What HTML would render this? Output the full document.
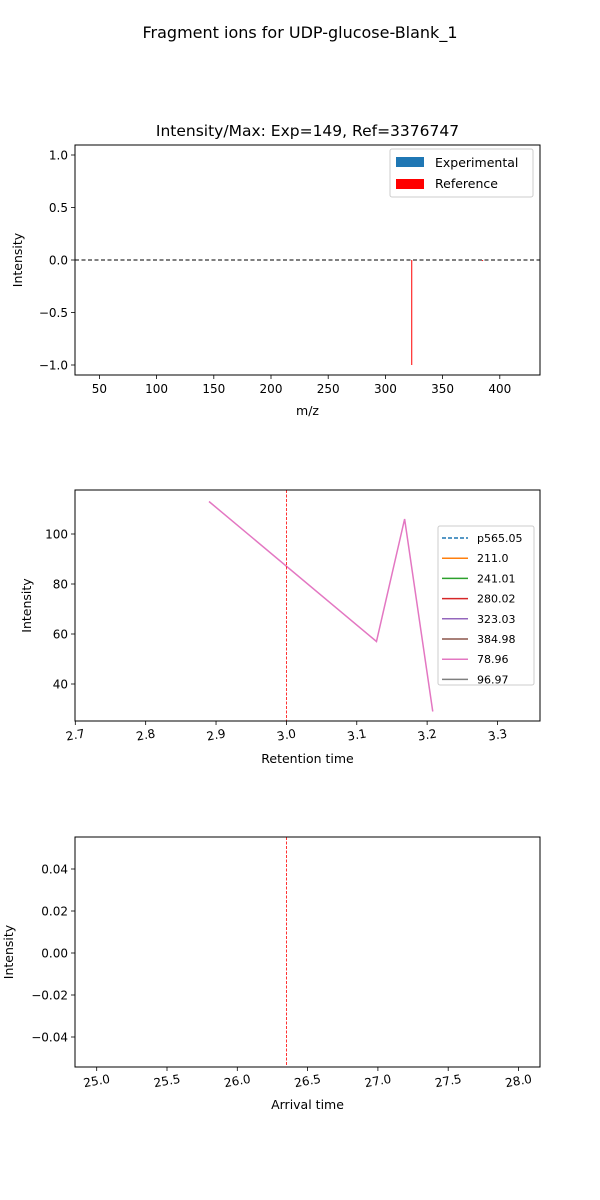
<!DOCTYPE html>
<html><head><meta charset="utf-8"><style>
html,body{margin:0;padding:0;background:#fff;}
svg{display:block;font-family:"DejaVu Sans","Liberation Sans",sans-serif;}
</style></head><body>
<svg id="fig" width="600" height="1200" viewBox="0 0 600 1200">
<text x="300" y="38" text-anchor="middle" font-size="16">Fragment ions for UDP-glucose-Blank_1</text>
</svg>
<script>
// Chart 1 data
const specMz = [323.03, 384.98];
const specRef = [-1.0, -0.01];
const specTicksX = [50,100,150,200,250,300,350,400];
const specTicksY = [1.0,0.5,0.0,-0.5,-1.0];
// Chart 2 data
const rtX = [2.89, 3.128, 3.168, 3.208];
const rtY = [113, 57, 106, 29];
const rtTicksX = [2.7,2.8,2.9,3.0,3.1,3.2,3.3];
const rtTicksY = [40,60,80,100];
const rtMarker = [3.0];
const legendLabels = ["p565.05","211.0","241.01","280.02","323.03","384.98","78.96","96.97"];
const legendColors = ["#1f77b4","#ff7f0e","#2ca02c","#d62728","#9467bd","#8c564b","#e377c2","#7f7f7f"];
// Chart 3 data
const atTicksX = [25.0,25.5,26.0,26.5,27.0,27.5,28.0];
const atTicksY = [0.04,0.02,0.00,-0.02,-0.04];
const atMarker = [26.35];

const NS="http://www.w3.org/2000/svg";
const fig=document.getElementById('fig');
function el(tag,attrs,parent,text){const e=document.createElementNS(NS,tag);for(const k in attrs)e.setAttribute(k,attrs[k]);if(text!==undefined)e.textContent=text;(parent||fig).appendChild(e);return e;}
function lin(d0,d1,r0,r1){return v=>r0+(v-d0)*(r1-r0)/(d1-d0);}
function fmt(v,dec){let s=v.toFixed(dec);return s.replace('-','\u2212');}

function axes(name,L,T,R,B,sx,sy,tx,ty,decX,decY,xlabel,ylabel,rot,ylabX){
  const g=el('g',{},fig);
  
  
  tx.forEach(v=>{const x=sx(v);
    const t=el('line',{x1:x,x2:x,y1:B,y2:B+4,stroke:'#000','stroke-width':0.8},g);
    
    
    const lb=el('text',{x:x,y:B+18,'text-anchor':'middle','font-size':12,transform:rot?`rotate(-10 ${x} ${B+14})`:''},g,fmt(v,decX));
    
    
  });
  ty.forEach(v=>{const y=sy(v);
    const t=el('line',{x1:L-4,x2:L,y1:y,y2:y,stroke:'#000','stroke-width':0.8},g);
    
    
    const lb=el('text',{x:L-7,y:y+4.5,'text-anchor':'end','font-size':12},g,fmt(v,decY));
    
    
  });
  const xl=el('text',{x:(L+R)/2,y:B+(rot?42:40),'text-anchor':'middle','font-size':12.5},g,xlabel);
  
  
  const yc=(T+B)/2;
  const yl=el('text',{x:ylabX,y:yc,'text-anchor':'middle','font-size':12.5,transform:`rotate(-90 ${ylabX} ${yc})`},g,ylabel);
  
  
  return g;
}
function frame(L,T,R,B){const f=el('rect',{x:L,y:T,width:R-L,height:B-T,fill:'none',stroke:'#000','stroke-width':1});
  
  }

// ---- Chart 1
{
 const L=75,T=145,R=540,B=375;
 const sx=lin(50,400,99.4,499.8), sy=lin(1,-1,155,365);
 const t=el('text',{x:(L+R)/2,y:T-9,'text-anchor':'middle','font-size':15.5},fig,'Intensity/Max: Exp=149, Ref=3376747');
 
 
 axes('spectrum-axes',L,T,R,B,sx,sy,specTicksX,specTicksY,0,1,'m/z','Intensity',false,22);
 const z=el('line',{x1:L,x2:R,y1:sy(0),y2:sy(0),stroke:'#000','stroke-width':1,'stroke-dasharray':'4,2.5'});
 
 
 specMz.forEach((m,i)=>{
   const b=el('line',{x1:sx(m),x2:sx(m),y1:sy(0),y2:sy(specRef[i]),stroke:'red','stroke-width':1});
   
   
 });
 frame(L,T,R,B);
 const lg=el('g',{});
 
 
 el('rect',{x:390,y:149,width:143,height:48,rx:2,fill:'#fff',stroke:'#ccc'},lg);
 el('rect',{x:396,y:157,width:28,height:10,fill:'#1f77b4'},lg);
 el('text',{x:435,y:167,'font-size':12.5},lg,'Experimental');
 el('rect',{x:396,y:179,width:28,height:10,fill:'red'},lg);
 el('text',{x:435,y:188,'font-size':12.5},lg,'Reference');
}
// ---- Chart 2
{
 const L=75,T=490,R=540,B=721;
 const sx=lin(2.7,3.3,75.3,497.5), sy=lin(100,40,534,684);
 axes('retention-axes',L,T,R,B,sx,sy,rtTicksX,rtTicksY,1,0,'Retention time','Intensity',true,31);
 const p=el('polyline',{points:rtX.map((x,i)=>sx(x)+','+sy(rtY[i])).join(' '),fill:'none',stroke:'#e377c2','stroke-width':1.5});
 
 
 rtMarker.forEach(v=>{const m=el('line',{x1:sx(v),x2:sx(v),y1:T,y2:B,stroke:'red','stroke-width':0.8,'stroke-dasharray':'3,1.5'});
   
   });
 frame(L,T,R,B);
 const lg=el('g',{});
 
 
 el('rect',{x:438,y:526,width:96,height:159,rx:2,fill:'#fff',stroke:'#ccc'},lg);
 legendLabels.forEach((lab,i)=>{const y=538+i*20.2;
   const e=el('g',{},lg);
   
   
   el('line',{x1:442,x2:468,y1:y,y2:y,stroke:legendColors[i],'stroke-width':1.5,'stroke-dasharray':i==0?'4,2':''},e);
   el('text',{x:477,y:y+4,'font-size':11},e,lab);
 });
}
// ---- Chart 3
{
 const L=75,T=837,R=540,B=1067;
 const sx=lin(25,28,96.7,518.5), sy=lin(0.04,-0.04,869,1037);
 axes('arrival-axes',L,T,R,B,sx,sy,atTicksX,atTicksY,1,2,'Arrival time','Intensity',true,13);
 atMarker.forEach(v=>{const m=el('line',{x1:sx(v),x2:sx(v),y1:T,y2:B,stroke:'red','stroke-width':0.8,'stroke-dasharray':'3,1.5'});
   
   });
 frame(L,T,R,B);
}
</script>
</body></html>
